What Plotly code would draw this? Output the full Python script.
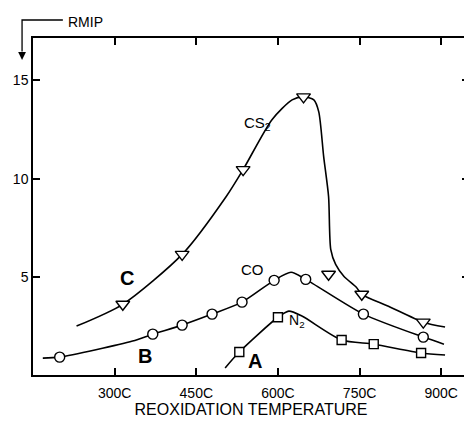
import plotly.graph_objects as go

# ---- data ----
tick_x = [300, 450, 600, 750, 900]
tick_x_text = ["300C", "450C", "600C", "750C", "900C"]
tick_y = [5, 10, 15]

# CS2 (curve C)
cs2_marker_x = [315, 424, 536, 647, 693, 754, 867]
cs2_marker_y = [3.60, 6.14, 10.46, 14.16, 5.13, 4.11, 2.69]
cs2_curve_x = [230, 315, 424, 505, 536, 589, 626, 647, 666, 675, 684, 693, 697, 706, 721, 744, 754, 803, 867, 907]
cs2_curve_y = [2.49, 3.60, 6.14, 9.09, 10.46, 13.0, 14.01, 14.16, 14.01, 13.40, 11.12, 9.09, 6.40, 5.63, 5.03, 4.47, 4.11, 3.50, 2.69, 2.44]

# CO (curve B)
co_marker_x = [199, 370, 424, 479, 534, 593, 651, 757, 867]
co_marker_y = [0.91, 2.08, 2.54, 3.10, 3.71, 4.82, 4.87, 3.10, 1.93]
co_curve_x = [168, 199, 333, 370, 424, 479, 534, 593, 624, 651, 757, 867, 905]
co_curve_y = [0.86, 0.91, 1.73, 2.08, 2.54, 3.10, 3.71, 4.82, 5.23, 4.87, 3.10, 1.93, 1.57]

# N2 (curve A)
n2_marker_x = [529, 600, 717, 776, 863]
n2_marker_y = [1.17, 2.94, 1.78, 1.57, 1.12]
n2_curve_x = [503, 529, 600, 620, 644, 717, 776, 863, 907]
n2_curve_y = [0.36, 1.17, 2.94, 3.25, 3.0, 1.78, 1.57, 1.12, 1.02]

FONT = "Liberation Sans, Arial, Helvetica, sans-serif"

fig = go.Figure()

def add_series(cx, cy, mx, my, symbol, size):
    fig.add_trace(go.Scatter(x=cx, y=cy, mode="lines",
                             line=dict(color="black", width=1.6, shape="spline", smoothing=0.7),
                             hoverinfo="skip", showlegend=False))
    fig.add_trace(go.Scatter(x=mx, y=my, mode="markers",
                             marker=dict(symbol=symbol, size=size, color="white",
                                         line=dict(color="black", width=1.4)),
                             showlegend=False))

add_series(cs2_curve_x, cs2_curve_y, cs2_marker_x, cs2_marker_y, "triangle-down", 12)
add_series(co_curve_x, co_curve_y, co_marker_x, co_marker_y, "circle", 10)
add_series(n2_curve_x, n2_curve_y, n2_marker_x, n2_marker_y, "square", 9)

labels = [
    (562, 12.79, "CS<sub>2</sub>", 15, False),
    (554, 5.38, "CO", 15, False),
    (635, 2.74, "N<sub>2</sub>", 14, False),
    (322, 4.92, "C", 20, True),
    (355, 0.96, "B", 20, True),
    (558, 0.71, "A", 20, True),
]
for x, y, t, s, b in labels:
    fig.add_annotation(x=x, y=y, text=("<b>%s</b>" % t) if b else t, showarrow=False,
                       xanchor="center", yanchor="middle",
                       font=dict(family=FONT, size=s, color="black"))

# RMIP label with bracket arrow
fig.add_annotation(xref="paper", yref="paper", x=0.121, y=1.047, text="RMIP",
                   xanchor="center", yanchor="middle",
                   showarrow=False, font=dict(family=FONT, size=14, color="black"))
fig.add_shape(type="path", xref="paper", yref="paper",
              path="M 0.0685 1.0534 L -0.0251 1.0534 L -0.0251 0.96",
              line=dict(color="black", width=1.3))
fig.add_annotation(xref="paper", yref="paper", x=-0.0251, y=0.935, text=" ",
                   showarrow=True, ax=0, ay=-14, arrowhead=2, arrowsize=1.2,
                   arrowwidth=1.3, arrowcolor="black", standoff=0, startstandoff=0)

axis_common = dict(showline=True, linecolor="black", linewidth=1.5, mirror="ticks",
                   ticks="inside", ticklen=7, tickwidth=1.5, tickcolor="black",
                   showgrid=False, zeroline=False,
                   tickfont=dict(family=FONT, size=14, color="black"))

fig.update_xaxes(range=[150, 951], tickvals=tick_x, ticktext=tick_x_text,
                 ticklabelstandoff=4,
                 title=dict(text="REOXIDATION TEMPERATURE",
                            font=dict(family=FONT, size=16, color="black"), standoff=4),
                 **axis_common)
fig.update_yaxes(range=[0, 17.16], tickvals=tick_y, **axis_common)

# page body has an 8px margin, so the figure is offset by 8px
fig.update_layout(width=464, height=415, margin=dict(l=25, r=1, t=30, b=48),
                  plot_bgcolor="white", paper_bgcolor="white",
                  font=dict(family=FONT, color="black"))

fig.write_html("out.html")
